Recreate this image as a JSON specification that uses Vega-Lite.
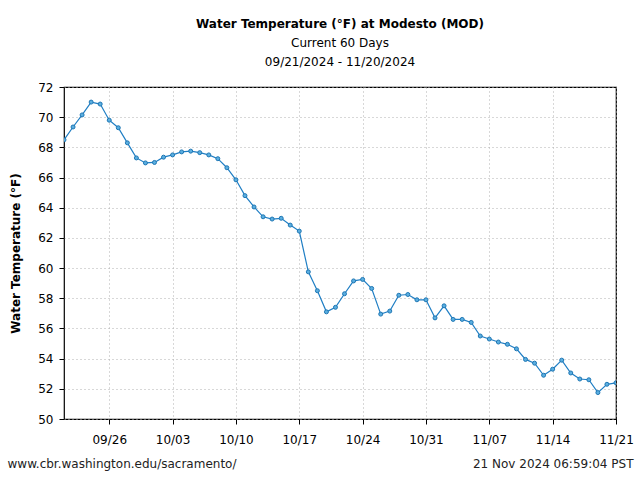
{
  "$schema": "https://vega.github.io/schema/vega-lite/v6.json",
  "width": 552,
  "height": 332,
  "autosize": {"type": "none"},
  "padding": {"left": 64, "top": 87, "right": 24, "bottom": 61},
  "background": "white",
  "config": {
    "font": "DejaVu Sans",
    "view": {"stroke": "black", "strokeWidth": 1.2},
    "axis": {"labelFont": "DejaVu Sans", "titleFont": "DejaVu Sans"}
  },
  "title": {
    "text": "Water Temperature (°F) at Modesto (MOD)",
    "subtitle": ["Current 60 Days", "09/21/2024 - 11/20/2024"],
    "anchor": "middle",
    "font": "DejaVu Sans",
    "fontSize": 12,
    "fontWeight": "bold",
    "color": "black",
    "subtitleFont": "DejaVu Sans",
    "subtitleFontSize": 12,
    "subtitleColor": "black",
    "subtitleLineHeight": 19,
    "subtitlePadding": 7,
    "offset": 12
  },
  "data": {
    "values": [
      {"date": "2024-09-21", "temp": 68.5},
      {"date": "2024-09-22", "temp": 69.35},
      {"date": "2024-09-23", "temp": 70.15},
      {"date": "2024-09-24", "temp": 71.0},
      {"date": "2024-09-25", "temp": 70.87},
      {"date": "2024-09-26", "temp": 69.8},
      {"date": "2024-09-27", "temp": 69.3},
      {"date": "2024-09-28", "temp": 68.3},
      {"date": "2024-09-29", "temp": 67.3},
      {"date": "2024-09-30", "temp": 66.97},
      {"date": "2024-10-01", "temp": 67.0},
      {"date": "2024-10-02", "temp": 67.35},
      {"date": "2024-10-03", "temp": 67.5},
      {"date": "2024-10-04", "temp": 67.7},
      {"date": "2024-10-05", "temp": 67.75},
      {"date": "2024-10-06", "temp": 67.65},
      {"date": "2024-10-07", "temp": 67.5},
      {"date": "2024-10-08", "temp": 67.25},
      {"date": "2024-10-09", "temp": 66.65},
      {"date": "2024-10-10", "temp": 65.85},
      {"date": "2024-10-11", "temp": 64.8},
      {"date": "2024-10-12", "temp": 64.05},
      {"date": "2024-10-13", "temp": 63.4},
      {"date": "2024-10-14", "temp": 63.25},
      {"date": "2024-10-15", "temp": 63.3},
      {"date": "2024-10-16", "temp": 62.85},
      {"date": "2024-10-17", "temp": 62.45},
      {"date": "2024-10-18", "temp": 59.75},
      {"date": "2024-10-19", "temp": 58.5},
      {"date": "2024-10-20", "temp": 57.1},
      {"date": "2024-10-21", "temp": 57.4},
      {"date": "2024-10-22", "temp": 58.3},
      {"date": "2024-10-23", "temp": 59.15},
      {"date": "2024-10-24", "temp": 59.25},
      {"date": "2024-10-25", "temp": 58.65},
      {"date": "2024-10-26", "temp": 56.95},
      {"date": "2024-10-27", "temp": 57.15},
      {"date": "2024-10-28", "temp": 58.2},
      {"date": "2024-10-29", "temp": 58.25},
      {"date": "2024-10-30", "temp": 57.9},
      {"date": "2024-10-31", "temp": 57.9},
      {"date": "2024-11-01", "temp": 56.7},
      {"date": "2024-11-02", "temp": 57.5},
      {"date": "2024-11-03", "temp": 56.6},
      {"date": "2024-11-04", "temp": 56.6},
      {"date": "2024-11-05", "temp": 56.4},
      {"date": "2024-11-06", "temp": 55.5},
      {"date": "2024-11-07", "temp": 55.3},
      {"date": "2024-11-08", "temp": 55.1},
      {"date": "2024-11-09", "temp": 54.95},
      {"date": "2024-11-10", "temp": 54.65},
      {"date": "2024-11-11", "temp": 53.95},
      {"date": "2024-11-12", "temp": 53.7},
      {"date": "2024-11-13", "temp": 52.9},
      {"date": "2024-11-14", "temp": 53.3},
      {"date": "2024-11-15", "temp": 53.9},
      {"date": "2024-11-16", "temp": 53.05},
      {"date": "2024-11-17", "temp": 52.65},
      {"date": "2024-11-18", "temp": 52.6},
      {"date": "2024-11-19", "temp": 51.75},
      {"date": "2024-11-20", "temp": 52.3},
      {"date": "2024-11-21", "temp": 52.4}
    ]
  },
  "encoding": {
    "y": {
      "field": "temp",
      "type": "quantitative",
      "scale": {"domain": [50, 72], "nice": false, "zero": false},
      "axis": {
        "values": [50, 52, 54, 56, 58, 60, 62, 64, 66, 68, 70, 72],
        "labelFontSize": 12,
        "labelColor": "black",
        "labelPadding": 6,
        "labelOverlap": false,
        "tickColor": "black",
        "tickSize": 5,
        "domain": false,
        "grid": true,
        "gridColor": "#b0b0b0",
        "gridDash": [1, 3],
        "title": "Water Temperature (°F)",
        "titleFontSize": 12,
        "titleFontWeight": "bold",
        "titleColor": "black",
        "titlePadding": 15
      }
    }
  },
  "layer": [
    {
      "mark": {"type": "line", "color": "#1f7ec4", "strokeWidth": 1.2, "clip": true},
      "encoding": {
        "x": {
          "field": "date",
          "type": "temporal",
          "scale": {
            "type": "utc",
            "domain": [
              {"year": 2024, "month": 9, "date": 21, "utc": true},
              {"year": 2024, "month": 11, "date": 21, "utc": true}
            ]
          },
          "axis": {
            "format": "%m/%d",
            "values": [
              {"year": 2024, "month": 9, "date": 26, "utc": true},
              {"year": 2024, "month": 10, "date": 3, "utc": true},
              {"year": 2024, "month": 10, "date": 10, "utc": true},
              {"year": 2024, "month": 10, "date": 17, "utc": true},
              {"year": 2024, "month": 10, "date": 24, "utc": true},
              {"year": 2024, "month": 10, "date": 31, "utc": true},
              {"year": 2024, "month": 11, "date": 7, "utc": true},
              {"year": 2024, "month": 11, "date": 14, "utc": true},
              {"year": 2024, "month": 11, "date": 21, "utc": true}
            ],
            "labelFontSize": 12,
            "labelColor": "black",
            "labelPadding": 10,
            "labelFlush": false,
            "labelOverlap": false,
            "tickColor": "black",
            "tickSize": 5,
            "domain": false,
            "grid": true,
            "gridColor": "#b0b0b0",
            "gridDash": [1, 3],
            "title": "www.cbr.washington.edu/sacramento/",
            "titleFontSize": 12,
            "titleFontWeight": "normal",
            "titleColor": "#222222",
            "titleAlign": "left",
            "titleAnchor": "start",
            "titleBaseline": "alphabetic",
            "titleX": -57,
            "titleY": 48
          }
        }
      }
    },
    {
      "mark": {"type": "point", "filled": true, "size": 16, "fill": "#5aaee0", "stroke": "#1f77b4", "strokeWidth": 1, "opacity": 1, "clip": true},
      "encoding": {
        "x": {
          "field": "date",
          "type": "temporal",
          "scale": {
            "type": "utc",
            "domain": [
              {"year": 2024, "month": 9, "date": 21, "utc": true},
              {"year": 2024, "month": 11, "date": 21, "utc": true}
            ]
          },
          "axis": {
            "orient": "bottom",
            "labels": false,
            "ticks": false,
            "domain": false,
            "grid": false,
            "title": "21 Nov 2024 06:59:04 PST",
            "titleFontSize": 12,
            "titleFontWeight": "normal",
            "titleColor": "#222222",
            "titleAlign": "right",
            "titleAnchor": "end",
            "titleBaseline": "alphabetic",
            "titleX": 569,
            "titleY": 48
          }
        }
      }
    }
  ],
  "resolve": {"scale": {"x": "independent"}, "axis": {"x": "independent"}}
}
